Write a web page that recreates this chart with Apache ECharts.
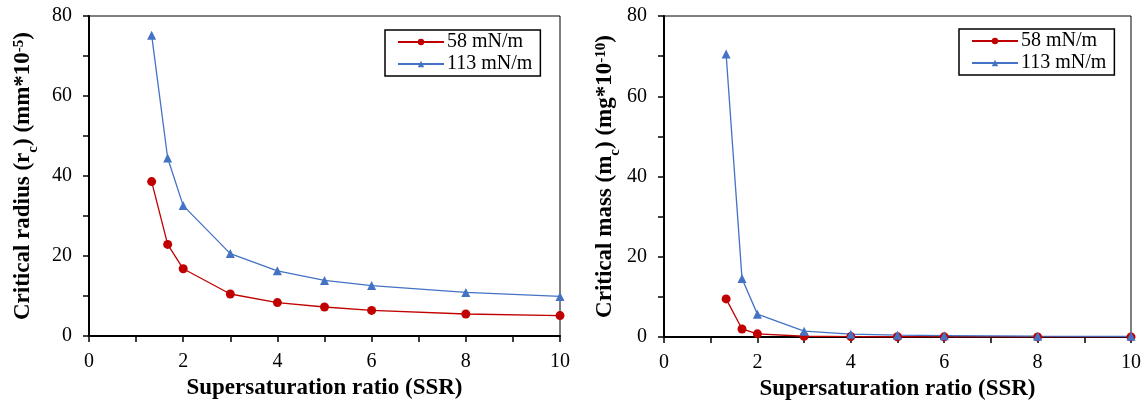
<!DOCTYPE html>
<html>
<head>
<meta charset="utf-8">
<script src="https://cdn.jsdelivr.net/npm/echarts@6/dist/echarts.min.js"></script>
<style>
html,body{margin:0;padding:0;background:#fff;}
#chart{width:1146px;height:408px;}
</style>
</head>
<body>
<div id="chart"></div>
<script>
const ssr = [1.33, 1.67, 2, 3, 4, 5, 6, 8, 10];
const radius58 = [38.6, 22.9, 16.8, 10.5, 8.35, 7.25, 6.4, 5.5, 5.1];
const radius113 = [75.2, 44.5, 32.6, 20.6, 16.3, 13.9, 12.6, 10.9, 9.9];
const mass58 = [9.5, 2.0, 0.78, 0.19, 0.1, 0.06, 0.04, 0.025, 0.02];
const mass113 = [70.5, 14.6, 5.7, 1.45, 0.71, 0.45, 0.33, 0.21, 0.16];
const seriesNames = ['58 mN/m', '113 mN/m'];
const xTitle = 'Supersaturation ratio (SSR)';

const RED = '#C00000', BLUE = '#4472C4';
const FONT = '"Liberation Serif", "Times New Roman", serif';

function pairs(xs, ys){ return xs.map((x,i)=>[x, ys[i]]); }

function xAxis(gi){
  return {
    gridIndex: gi, type: 'value', min: 0, max: 10, interval: 1,
    name: xTitle, nameLocation: 'middle', nameGap: 37,
    nameTextStyle: {fontFamily: FONT, fontWeight: 'bold', fontSize: 23, color: '#000'},
    axisLine: {show: true, onZero: false, lineStyle: {color: '#000', width: 2}},
    axisTick: {show: true, inside: false, length: 6, lineStyle: {color: '#000', width: 1.5}},
    axisLabel: {fontFamily: FONT, fontSize: 20, color: '#000', margin: 16,
      formatter: v => (v % 2 === 0 ? String(v) : '')},
    splitLine: {show: false}
  };
}
function yAxis(gi, nameRich, gap){
  return {
    gridIndex: gi, type: 'value', min: 0, max: 80, interval: 10,
    name: nameRich, nameLocation: 'middle', nameGap: gap,
    nameTextStyle: {fontFamily: FONT, fontWeight: 'bold', fontSize: 23, color: '#000',
      rich: {
        b: {fontFamily: FONT, fontWeight: 'bold', fontSize: 23, color: '#000', lineHeight: 30, verticalAlign: 'middle'},
        sub: {fontFamily: FONT, fontWeight: 'bold', fontSize: 15, color: '#000', lineHeight: 30, verticalAlign: 'bottom', padding: [0,0,-3,0]},
        sup: {fontFamily: FONT, fontWeight: 'bold', fontSize: 15, color: '#000', lineHeight: 30, verticalAlign: 'top', padding: [4,0,0,0]}
      }},
    axisLine: {show: true, lineStyle: {color: '#000', width: 2}},
    axisTick: {show: true, inside: false, length: 6, lineStyle: {color: '#000', width: 1.5}},
    axisLabel: {fontFamily: FONT, fontSize: 20, color: '#000', margin: 17,
      formatter: v => (v % 20 === 0 ? String(v) : '')},
    splitLine: {show: false}
  };
}
function legend(left, top){
  return {
    show: true, orient: 'vertical', left: left, top: top,
    data: seriesNames.slice(),
    backgroundColor: '#fff', borderColor: '#000', borderWidth: 1.5,
    padding: [2, 8, 2, 12], itemGap: 2, itemWidth: 46, itemHeight: 8,
    textStyle: {fontFamily: FONT, fontSize: 20, color: '#000', padding: [0,0,0,-2]}
  };
}
function line(name, gi, xs, ys, color, symbol, size){
  return {
    name: name, type: 'line', xAxisIndex: gi, yAxisIndex: gi,
    data: pairs(xs, ys), symbol: symbol, symbolSize: size, showSymbol: true,
    lineStyle: {color: color, width: 1.3},
    itemStyle: {color: color},
    emphasis: {disabled: true}, z: 3
  };
}

const chart = echarts.init(document.getElementById('chart'), null, {renderer: 'canvas'});
chart.setOption({
  animation: false,
  backgroundColor: '#fff',
  grid: [
    {left: 89, top: 16, width: 471, height: 320, show: true, borderColor: '#000', borderWidth: 1, backgroundColor: 'transparent'},
    {left: 664, top: 16, width: 467, height: 321, show: true, borderColor: '#000', borderWidth: 1, backgroundColor: 'transparent'}
  ],
  legend: [legend(385, 30), legend(959, 29)],
  xAxis: [xAxis(0), xAxis(1)],
  yAxis: [
    yAxis(0, '{b|Critical radius (r}{sub|c}{b|) (mm*10}{sup|-5}{b|)}', 51),
    yAxis(1, '{b|Critical mass (m}{sub|c}{b|) (mg*10}{sup|-10}{b|)}', 43)
  ],
  series: [
    line(seriesNames[0], 0, ssr, radius58, RED, 'circle', 9),
    line(seriesNames[1], 0, ssr, radius113, BLUE, 'triangle', 9),
    line(seriesNames[0], 1, ssr, mass58, RED, 'circle', 9),
    line(seriesNames[1], 1, ssr, mass113, BLUE, 'triangle', 9)
  ]
});
</script>
</body>
</html>
